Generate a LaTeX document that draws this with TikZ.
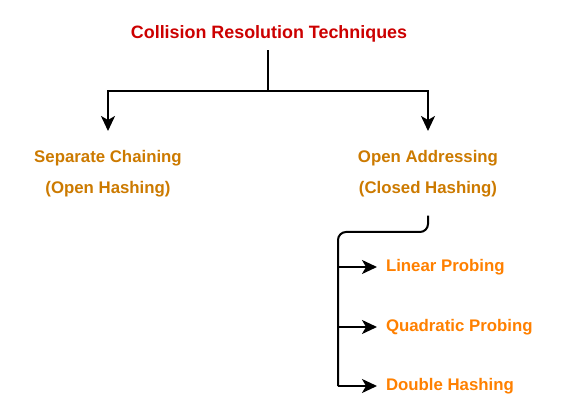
\documentclass[tikz,border=0pt]{standalone}
\usepackage{fontspec}
\setmainfont{Liberation Sans}
\usetikzlibrary{arrows.meta}
\definecolor{titlered}{HTML}{CC0000}
\definecolor{kindorange}{HTML}{CC7A00}
\definecolor{probeorange}{HTML}{FF8000}
\begin{document}
\begin{tikzpicture}[x=1pt,y=-1pt,
    >={Stealth[length=15pt,width=14pt,inset=4pt]},
    line width=2pt,
    crtitle/.style={font=\bfseries\fontsize{17.9}{20}\selectfont,text=titlered,inner ysep=7pt},
    kind/.style={font=\bfseries\fontsize{16.8}{31}\selectfont,text=kindorange,
        align=center,anchor=north,inner ysep=18pt},
    probe/.style={font=\bfseries\fontsize{16.8}{20}\selectfont,text=probeorange,
        anchor=west,inner xsep=8pt}]
    \useasboundingbox (0,0) rectangle (562,419);
    \node[crtitle] (crt) at (269,34) {Collision Resolution Techniques};
    \node[kind] (sep) at (108,131) {Separate Chaining\\(Open Hashing)};
    \node[kind] (open) at (428,131) {Open Addressing\\(Closed Hashing)};
    \node[probe] (lin) at (377,267) {Linear Probing};
    \node[probe] (quad) at (377,327) {Quadratic Probing};
    \node[probe] (dbl) at (377,386) {Double Hashing};
    % fork below the title
    \coordinate (fork) at (268,91);
    \draw (crt.south -| fork) -- (fork);
    \draw[->] (fork) -| (sep);
    \draw[->] (fork) -| (open);
    % bracket for open addressing
    \coordinate (spine) at (338,232);
    \draw[rounded corners=8pt] (open) |- (spine) -- (spine |- dbl);
    \draw[->] (spine |- lin) -- (lin);
    \draw[->] (spine |- quad) -- (quad);
    \draw[->] (spine |- dbl) -- (dbl);
\end{tikzpicture}
\end{document}
